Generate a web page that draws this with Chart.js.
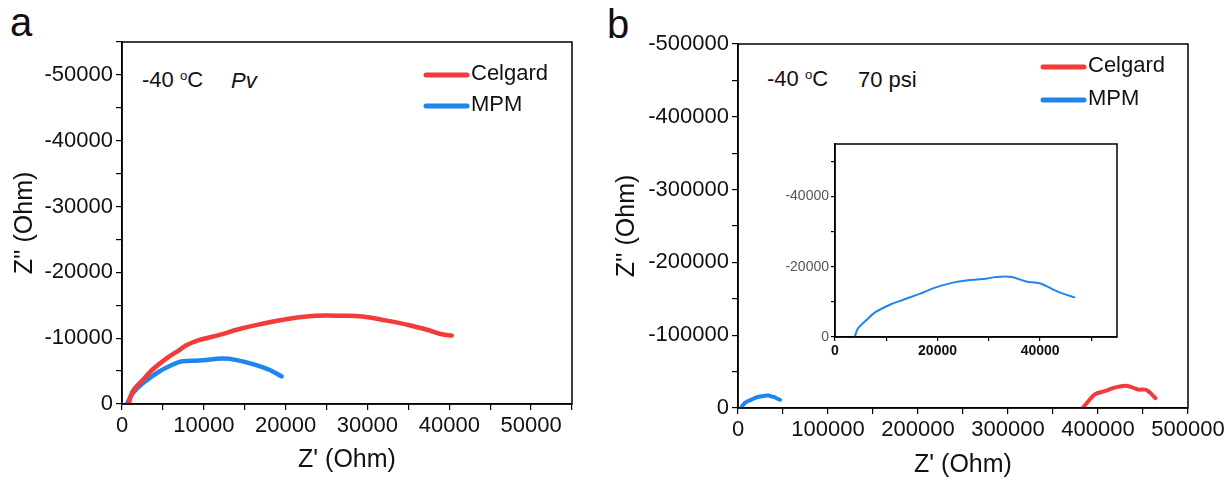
<!DOCTYPE html>
<html lang="en">
<head>
<meta charset="UTF-8">
<title>Impedance at -40 °C</title>
<script src="https://cdn.jsdelivr.net/npm/chart.js"></script>
<style>
  body { margin: 0; background: #fff; width: 1228px; height: 480px; position: relative; overflow: hidden;
         font-family: Arial, "Liberation Sans", sans-serif; color: #111; }
  canvas { position: absolute; }
  .lbl { position: absolute; white-space: nowrap; line-height: 1; }
  .lbl sup { font-size: 60%; vertical-align: 0.55em; }
</style>
</head>
<body>
<div class="lbl" style="left:10px;top:2px;font-size:40px">a</div>
<div class="lbl" style="left:607px;top:4px;font-size:40px">b</div>
<div class="lbl" style="left:142px;top:69px;font-size:22px">-40 <sup>o</sup>C</div>
<div class="lbl" style="left:231px;top:70px;font-size:22px;font-style:italic">Pv</div>
<div class="lbl" style="left:767px;top:68px;font-size:22px">-40 <sup>o</sup>C</div>
<div class="lbl" style="left:858px;top:69px;font-size:22px">70 psi</div>

<canvas id="chartA" width="600" height="480" style="left:0;top:0"></canvas>
<canvas id="chartB" width="628" height="480" style="left:600px;top:0"></canvas>
<canvas id="chartInset" width="380" height="240" style="left:760px;top:130px"></canvas>

<script>
// panel a, -40 C, Pv
const celgardA_x = [800, 1300, 2500, 3700, 5400, 7000, 7800, 9400, 11900, 14700, 18800, 21200, 23700, 26900, 29400, 32200, 35000, 37500, 39100, 40300];
const celgardA_y = [0, 1900, 3600, 5200, 6900, 8200, 8900, 9700, 10500, 11500, 12600, 13100, 13400, 13400, 13300, 12700, 12000, 11200, 10600, 10400];
const mpmA_x = [600, 1300, 2500, 4500, 6600, 7400, 9400, 12300, 13900, 15900, 18000, 19500];
const mpmA_y = [0, 1600, 3100, 4900, 6200, 6500, 6600, 6900, 6700, 6100, 5200, 4200];

// panel b, -40 C, 70 psi
const celgardB_x = [383000, 389700, 397100, 408200, 419300, 430400, 437800, 445200, 452600, 458200, 463800];
const celgardB_y = [0, 10000, 19200, 23400, 28400, 30700, 28400, 25200, 25200, 20600, 13700];
const mpmB_x = [3900, 4500, 6200, 7800, 10700, 13300, 16500, 19800, 23000, 25600, 28900, 31500, 34400, 37300, 39900, 43800, 46700];
const mpmB_y = [300, 2500, 4900, 7000, 9200, 10600, 12300, 14200, 15500, 16100, 16500, 17100, 17100, 15800, 15300, 12700, 11300];

const seriesNames = ['Celgard', 'MPM'];
const seriesColors = ['#f23b3b', '#1f86ee'];

const xMaxA = 55000, yMaxA = 55000, majorA = 10000, minorA = 5000;
const xMaxB = 500000, yMaxB = 500000, majorB = 100000, minorB = 50000;
const xMaxIn = 55000, yMaxIn = 55000, majorIn = 20000, minorIn = 10000;

const FONT = 'Arial, "Liberation Sans", sans-serif';

function pts(xs, ys) { return xs.map((x, i) => ({ x: x, y: ys[i] })); }

const framePlugin = {
  id: 'frame',
  afterDraw(chart, args, opts) {
    const { ctx, chartArea: a } = chart;
    ctx.save();
    ctx.strokeStyle = '#000';
    ctx.lineWidth = opts.width || 1.5;
    ctx.strokeRect(a.left, a.top, a.right - a.left, a.bottom - a.top);
    ctx.restore();
  }
};

// legend drawn inside the plot box, top right
const boxLegend = {
  id: 'boxLegend',
  afterDraw(chart, args, opts) {
    if (!opts.show) return;
    const { ctx, chartArea: a } = chart;
    ctx.save();
    ctx.font = '22px ' + FONT;
    ctx.textBaseline = 'middle';
    chart.data.datasets.forEach((ds, i) => {
      const y = a.top + opts.top + i * opts.gap;
      const x0 = a.left + opts.left;
      ctx.strokeStyle = ds.borderColor;
      ctx.lineWidth = 5;
      ctx.lineCap = 'round';
      ctx.beginPath();
      ctx.moveTo(x0, y);
      ctx.lineTo(x0 + 41, y);
      ctx.stroke();
      ctx.fillStyle = '#111';
      ctx.fillText(ds.label, x0 + 45, y - 1);
    });
    ctx.restore();
  }
};

function makeAxis(o) {
  return {
    type: 'linear',
    min: 0,
    max: o.max,
    afterBuildTicks(scale) {
      const t = [];
      for (let v = 0; v <= o.max + 1; v += o.minor) t.push({ value: v });
      scale.ticks = t;
    },
    afterFit(scale) {
      if (o.size) {
        if (o.horizontal) scale.height = o.size; else scale.width = o.size;
      }
    },
    border: { display: true, color: '#000', width: 1.5 },
    grid: { drawOnChartArea: false, color: '#000', lineWidth: 1.2, tickLength: o.tickLen || 6 },
    ticks: {
      autoSkip: false,
      maxRotation: 0,
      padding: o.pad || 3,
      color: o.tickColor || '#111',
      font: { family: FONT, size: o.fontSize || 22, weight: o.bold ? 'bold' : 'normal' },
      callback(v) {
        if (v % o.major !== 0) return '';
        if (v === 0) return '0';
        return o.negative ? '-' + v : String(v);
      }
    },
    title: o.title ? {
      display: true,
      text: o.title,
      color: '#111',
      font: { family: FONT, size: 25 },
      padding: o.titlePad || { top: 4, bottom: 4 }
    } : { display: false }
  };
}

function lineSet(label, color, data, width) {
  return {
    label: label,
    data: data,
    borderColor: color,
    backgroundColor: color,
    borderWidth: width,
    pointRadius: 0,
    tension: 0.35,
    fill: false,
    borderCapStyle: 'round',
    borderJoinStyle: 'round'
  };
}

function baseOptions(padding, scales, legendOpts) {
  return {
    responsive: false,
    animation: false,
    layout: { padding: padding },
    scales: scales,
    plugins: {
      legend: { display: false },
      tooltip: { enabled: false },
      frame: { width: 1.5 },
      boxLegend: legendOpts
    }
  };
}

new Chart(document.getElementById('chartA'), {
  type: 'line',
  data: {
    datasets: [
      lineSet(seriesNames[0], seriesColors[0], pts(celgardA_x, celgardA_y), 4.5),
      lineSet(seriesNames[1], seriesColors[1], pts(mpmA_x, mpmA_y), 4.5)
    ]
  },
  options: baseOptions({ top: 42, right: 28, left: 0, bottom: 0 }, {
    x: makeAxis({ max: xMaxA, major: majorA, minor: minorA, horizontal: true, size: 76,
                  title: "Z' (Ohm)", titlePad: { top: 0, bottom: 5 } }),
    y: makeAxis({ max: yMaxA, major: majorA, minor: minorA, negative: true, size: 122,
                  title: "Z'' (Ohm)", titlePad: { top: 10, bottom: 0 } })
  }, { show: true, left: 304, top: 33, gap: 31 }),
  plugins: [framePlugin, boxLegend]
});

new Chart(document.getElementById('chartB'), {
  type: 'line',
  data: {
    datasets: [
      lineSet(seriesNames[0], seriesColors[0], pts(celgardB_x, celgardB_y), 4),
      lineSet(seriesNames[1], seriesColors[1], pts(mpmB_x, mpmB_y), 4)
    ]
  },
  options: baseOptions({ top: 44, right: 40, left: 0, bottom: 0 }, {
    x: makeAxis({ max: xMaxB, major: majorB, minor: minorB, horizontal: true, size: 72,
                  title: "Z' (Ohm)", titlePad: { top: 0, bottom: 0 } }),
    y: makeAxis({ max: yMaxB, major: majorB, minor: minorB, negative: true, size: 138,
                  title: "Z'' (Ohm)", titlePad: { top: 12, bottom: 0 } })
  }, { show: true, left: 305, top: 23, gap: 33 }),
  plugins: [framePlugin, boxLegend]
});

new Chart(document.getElementById('chartInset'), {
  type: 'line',
  data: {
    datasets: [
      lineSet(seriesNames[1], seriesColors[1], pts(mpmB_x, mpmB_y), 2)
    ]
  },
  options: baseOptions({ top: 14, right: 23, left: 0, bottom: 0 }, {
    x: makeAxis({ max: xMaxIn, major: majorIn, minor: minorIn, horizontal: true, size: 33,
                  fontSize: 14, bold: true, tickLen: 4, pad: 2 }),
    y: makeAxis({ max: yMaxIn, major: majorIn, minor: minorIn, negative: true, size: 75,
                  fontSize: 14, tickColor: '#555', tickLen: 4, pad: 2 })
  }, { show: false }),
  plugins: [framePlugin, boxLegend]
});
</script>
</body>
</html>
